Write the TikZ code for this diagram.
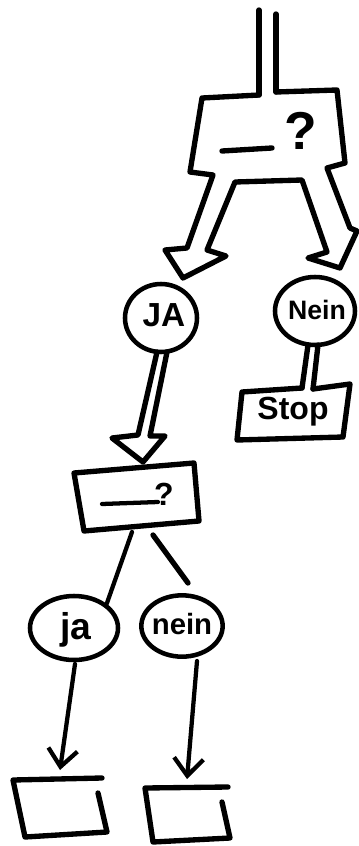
\documentclass[tikz,border=0pt]{standalone}
\usepackage{fontspec}
\setmainfont{Liberation Sans}
\usetikzlibrary{shapes.geometric,arrows.meta}
\begin{document}
\begin{tikzpicture}[x=0.75pt,y=-0.75pt,
  ink/.style={line width=4pt,line join=round,line cap=round},
  pen/.style={line width=3.2pt,line join=round,line cap=round},
  bubble/.style={ellipse,draw,line width=3.4pt,inner sep=0pt},
  lbl/.style={inner sep=0pt,font=\bfseries\fontsize{#1}{#1}\selectfont},
  barb/.style={pen,-{Straight Barb[length=13pt,width=22pt,line width=3.2pt]}}]
\useasboundingbox (0,0) rectangle (358,846);

% incoming double line
\coordinate (in1) at (259,10);
\coordinate (in2) at (276,14);
\coordinate (q1L) at (259,95);
\coordinate (q1R) at (276,92);
\draw[ink] (in1) -- (q1L) (in2) -- (q1R);

% top question box with its two hollow arrows
\coordinate (tipJA) at (183,278);
\coordinate (tipNein) at (340,268);
\draw[ink] (q1L) -- (202,98) -- (190,172) -- (213,175) -- (187,248) -- (165,250)
  -- (tipJA) -- (226,256) -- (207,250) -- (235,182) -- (302,180) -- (327,252)
  -- (308,258) -- (tipNein) -- (357,231) -- (350,228) -- (327,168) -- (345,163)
  -- (337,90) -- (q1R);
\draw[ink] (222,151) -- (272,148);
\node[lbl=40] (q1) at (301,131) {?};

% answer circles
\node[bubble,minimum width=54pt,minimum height=51pt] (ja1) at (161,318) {};
\node[lbl=25] (ja1t) at (164,315) {JA};
\node[bubble,minimum width=60pt,minimum height=51pt] (nein1) at (315,311) {};
\node[lbl=20] (nein1t) at (317,310) {Nein};

% Nein -> Stop (double line)
\coordinate (s1) at (308,345);
\coordinate (s2) at (318,345);
\coordinate (stopL) at (302,388);
\coordinate (stopR) at (313,389);
\draw[ink] (s1) -- (stopL) (s2) -- (stopR);
\draw[ink] (stopL) -- (242,392) -- (237,440) -- (343,437) -- (350,384) -- (stopR);
\node[lbl=24] (stop) at (293,412) {Stop};

% JA -> second question box (hollow arrow)
\coordinate (tip2) at (143,462);
\draw[ink] (157,352) -- (138,435) -- (112,438) -- (tip2) -- (165,436) -- (150,436) -- (167,352);

% second question box
\draw[ink] (74,473) -- (194,463) -- (199,521) -- (84,531) -- cycle;
\draw[pen] (102,504) -- (158,502);
\node[lbl=24] (q2) at (164,494) {?};

% branches
\node[bubble,minimum width=66pt,minimum height=48pt] (ja2) at (74,628) {};
\node[lbl=28] (ja2t) at (76,630) {ja};
\node[bubble,minimum width=61pt,minimum height=46pt] (nein2) at (182,626) {};
\node[lbl=22] (nein2t) at (182,624) {nein};
\coordinate (b1) at (132,532);
\coordinate (b2) at (153,535);
\coordinate (b2end) at (188,583);
\draw[pen] (b1) -- (ja2.north east);
\draw[ink] (b2) -- (b2end);

% arrows to empty boxes
\coordinate (t1) at (60,770);
\coordinate (t2) at (187,779);
\draw[barb] (75,664) -- (t1);
\draw[barb] (197,661) -- (t2);

% empty result boxes (right side open at the top)
\draw[ink] (98,793) -- (107,832) -- (25,837) -- (13,780) -- (102,778);
\draw[ink] (222,802) -- (230,838) -- (153,842) -- (145,788) -- (228,787);
\end{tikzpicture}
\end{document}
